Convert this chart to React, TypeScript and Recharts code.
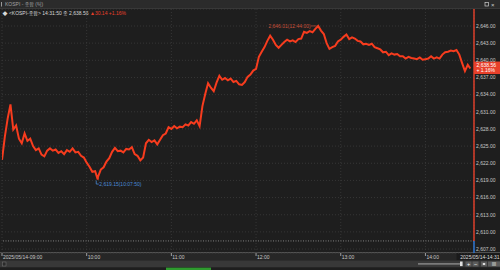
import React from "react";
import { LineChart, Line, XAxis, YAxis, CartesianGrid, ReferenceLine, ReferenceDot } from "recharts";

const FONT = "'Liberation Sans', 'Noto Sans CJK KR', sans-serif";

const times = [
  "09:00", "09:02", "09:04", "09:06", "09:08", "09:10", "09:12", "09:14", "09:16", "09:18",
  "09:20", "09:22", "09:24", "09:26", "09:28", "09:30", "09:32", "09:34", "09:36", "09:38",
  "09:40", "09:42", "09:44", "09:46", "09:48", "09:50", "09:52", "09:54", "09:56", "09:58",
  "10:00", "10:02", "10:04", "10:06", "10:07:50", "10:08", "10:10", "10:12", "10:14", "10:16",
  "10:18", "10:20", "10:22", "10:24", "10:26", "10:28", "10:30", "10:32", "10:34", "10:36",
  "10:38", "10:40", "10:42", "10:44", "10:46", "10:48", "10:50", "10:52", "10:54", "10:56",
  "10:58", "11:00", "11:02", "11:04", "11:06", "11:08", "11:10", "11:12", "11:14", "11:16",
  "11:18", "11:20", "11:22", "11:24", "11:26", "11:28", "11:30", "11:32", "11:34", "11:36",
  "11:38", "11:40", "11:42", "11:44", "11:46", "11:48", "11:50", "11:52", "11:54", "11:56",
  "11:58", "12:00", "12:02", "12:04", "12:06", "12:08", "12:10", "12:12", "12:14", "12:16",
  "12:18", "12:20", "12:22", "12:24", "12:26", "12:28", "12:30", "12:32", "12:34", "12:36",
  "12:38", "12:40", "12:42", "12:44", "12:46", "12:48", "12:50", "12:52", "12:54", "12:56",
  "12:58", "13:00", "13:02", "13:04", "13:06", "13:08", "13:10", "13:12", "13:14", "13:16",
  "13:18", "13:20", "13:22", "13:24", "13:26", "13:28", "13:30", "13:32", "13:34", "13:36",
  "13:38", "13:40", "13:42", "13:44", "13:46", "13:48", "13:50", "13:52", "13:54", "13:56",
  "13:58", "14:00", "14:02", "14:04", "14:06", "14:08", "14:10", "14:12", "14:14", "14:16",
  "14:18", "14:20", "14:22", "14:24", "14:26", "14:28", "14:30", "14:31:50",
];

const prices = [
  2622.6, 2626.6, 2629.8, 2632.3, 2627.9, 2628.6, 2626.3, 2625.5, 2627.2, 2625.9,
  2626.3, 2625.0, 2624.3, 2624.6, 2623.5, 2623.2, 2624.2, 2624.6, 2624.2, 2624.4,
  2623.8, 2624.1, 2623.6, 2624.3, 2624.0, 2624.6, 2623.9, 2624.0, 2623.3, 2623.0,
  2622.1, 2621.4, 2620.5, 2620.6, 2619.15, 2619.6, 2620.9, 2621.3, 2622.3, 2622.9,
  2624.0, 2624.7, 2624.1, 2624.2, 2623.9, 2624.5, 2624.4, 2624.8, 2623.6, 2623.3,
  2622.5, 2623.0, 2625.5, 2626.1, 2625.7, 2626.0, 2625.3, 2626.1, 2626.9, 2627.2,
  2628.3, 2628.0, 2628.5, 2628.1, 2628.4, 2628.3, 2628.8, 2628.6, 2629.2, 2628.9,
  2629.5, 2628.5, 2632.0, 2634.1, 2636.0, 2635.2, 2634.6, 2636.1, 2637.3, 2636.6,
  2636.9, 2636.5, 2636.8, 2636.2, 2636.4, 2635.8, 2635.7, 2636.2, 2637.1, 2637.5,
  2638.2, 2638.5, 2640.6, 2641.5, 2642.3, 2643.4, 2644.3, 2643.6, 2642.7, 2642.2,
  2642.7, 2643.2, 2643.6, 2643.3, 2643.5, 2643.2, 2643.7, 2643.8, 2645.0, 2644.8,
  2645.1, 2644.9, 2645.5, 2646.01, 2645.2, 2644.6, 2643.0, 2642.0, 2642.3, 2642.5,
  2643.3, 2643.6, 2644.1, 2644.5, 2643.7, 2644.0, 2643.8, 2643.4, 2643.3, 2642.8,
  2642.9, 2642.7, 2642.9, 2642.3, 2642.1, 2641.9, 2641.4, 2641.5, 2640.9, 2641.2,
  2641.0, 2641.1, 2640.7, 2640.7, 2640.3, 2640.6, 2640.4, 2640.3, 2640.2, 2640.5,
  2640.1, 2640.2, 2640.3, 2640.7, 2640.3, 2640.5, 2640.3, 2641.0, 2641.4, 2641.5,
  2641.7, 2641.6, 2641.8, 2641.0, 2639.5, 2638.1, 2639.2, 2638.56,
];

const yTicks = [2607, 2610, 2613, 2616, 2619, 2622, 2625, 2628, 2631, 2634, 2637, 2640, 2643, 2646];
const xTickTimes = ["09:00", "10:00", "11:00", "12:00", "13:00", "14:00"];
const dateLabel = "2025/05/14";
const lastTimeLabel = "14:31";
const lastClockLabel = "14:31:50";
const prevClose = 2608.42;
const lastPrice = 2638.56;
const changeValue = 30.14;
const changePct = 1.16;
const highTime = "12:44:00";
const highValue = 2646.01;
const lowTime = "10:07:50";
const lowValue = 2619.15;
const xDomainEnd = "14:34:25";
const yDomain: [number, number] = [2606.31, 2648.97];

const toMinutes = (s: string) => {
  const p = s.split(":").map(Number);
  return (p[0] - 9) * 60 + p[1] + (p[2] || 0) / 60;
};

const data = times.map((t, i) => ({ t: toMinutes(t), v: prices[i] }));
const xTicks = xTickTimes.map(toMinutes);
const xEnd = toMinutes(xDomainEnd);

const fmt = (v: number) =>
  v.toLocaleString("en-US", { minimumFractionDigits: 2, maximumFractionDigits: 2 });

const RED = "#f73c1e";
const BLUE = "#2f7de0";

const XTick = (props: any) => {
  const { x, y, payload } = props;
  const idx = xTicks.indexOf(payload.value);
  const label = idx === 0 ? `${dateLabel}-${xTickTimes[0]}` : xTickTimes[idx];
  return (
    <g>
      <line x1={x} y1={y} x2={x} y2={y + 3} stroke="#bbb" strokeWidth={0.8} />
      <text x={x + 1} y={y + 6} fontSize={5} fill="#c8c8c8" fontFamily={FONT} textAnchor="start">
        {label}
      </text>
    </g>
  );
};

const YTick = (props: any) => {
  const { x, y, payload } = props;
  return (
    <text x={x} y={y} dy={1.8} fontSize={5} fill="#c8c8c8" fontFamily={FONT} textAnchor="start">
      {fmt(payload.value)}
    </text>
  );
};

const PriceTag = (props: any) => {
  const vb = props.viewBox || {};
  const x0 = (vb.x || 0) + (vb.width || 0);
  const cy = vb.y || 0;
  return (
    <g>
      <rect x={x0} y={cy - 7} width={26} height={12.5} fill="#e8402a" />
      <text x={x0 + 2.5} y={cy - 1.8} fontSize={5} fill="#fff" fontFamily={FONT}>
        {fmt(lastPrice)}
      </text>
      <text x={x0 + 2.5} y={cy + 3.6} fontSize={5} fill="#fff" fontFamily={FONT}>
        {`+ ${changePct.toFixed(2)}%`}
      </text>
    </g>
  );
};

const HighMark = (props: any) => {
  const { cx, cy } = props;
  return (
    <g>
      <line x1={cx - 7} y1={cy} x2={cx - 1.5} y2={cy} stroke="#c8503a" strokeWidth={0.7} />
      <text x={cx - 7.5} y={cy + 1.8} fontSize={5} fill="#c8503a" fontFamily={FONT} textAnchor="end">
        {`${fmt(highValue)}(${highTime})`}
      </text>
    </g>
  );
};

const LowMark = (props: any) => {
  const { cx, cy } = props;
  return (
    <g>
      <path
        d={`M${cx - 1.5},${cy + 1} V${cy + 4.5} H${cx + 1}`}
        stroke="#4a8ad6"
        strokeWidth={0.8}
        fill="none"
      />
      <text x={cx + 1.5} y={cy + 6.3} fontSize={5} fill="#4a8ad6" fontFamily={FONT} textAnchor="start">
        {`${fmt(lowValue)}(${lowTime})`}
      </text>
    </g>
  );
};

export default function App() {
  return (
    <div
      style={{
        position: "absolute",
        left: 0,
        top: 0,
        width: 500,
        height: 270,
        background: "#1e1e1e",
        overflow: "hidden",
        fontFamily: FONT,
      }}
    >
      <svg width={500} height={270} style={{ position: "absolute", left: 0, top: 0 }}>
        <rect x={0} y={0} width={500} height={8.5} fill="#2b2b2b" />
        <line x1={0} y1={8.5} x2={500} y2={8.5} stroke="#3e3e3e" strokeWidth={0.8} />
        <rect x={1} y={2} width={1} height={4.5} fill="#9a9a9a" />
        <text x={5} y={6.2} fontSize={5} fill="#a0a0a0" fontFamily={FONT}>
          KOSPI - 종합 (틱)
        </text>
        <rect x={485} y={2.6} width={3.6} height={3.4} stroke="#cfcfcf" strokeWidth={0.7} fill="none" />
        <text x={491} y={6.6} fontSize={6} fill="#cfcfcf" fontFamily={FONT}>
          ×
        </text>
        <text x={2.5} y={14.6} fontSize={5} fill="#d8d8d8" fontFamily={FONT}>
          {`◆ <KOSPI-종합> ${lastClockLabel} 종 ${fmt(lastPrice)} `}
          <tspan fill="#e8402a">{`▲${changeValue.toFixed(2)}  +${changePct.toFixed(2)}%`}</tspan>
        </text>
        <rect x={0} y={253} width={500} height={7.5} fill="#262626" />
        <line x1={0} y1={252.6} x2={500} y2={252.6} stroke="#5e5e5e" strokeWidth={0.9} />
        <rect x={456.5} y={253.2} width={43.5} height={7.2} fill="#1a1a1a" />
        <text x={499.5} y={259} fontSize={5} fill="#dcdcdc" fontFamily={FONT} textAnchor="end">
          {`${dateLabel}-${lastTimeLabel}`}
        </text>
        <rect x={0} y={260.5} width={500} height={6.8} fill="#383838" />
        <rect x={2.5} y={262} width={3.5} height={4} fill="#2a2a2a" stroke="#777" strokeWidth={0.5} />
        <rect x={418} y={263.2} width={44} height={1.4} fill="#8a8a8a" />
        <rect x={460} y={261.5} width={2.6} height={4.6} fill="#e0e0e0" />
        <rect x={465.5} y={261.5} width={6} height={5} fill="#5c5c5c" />
        <text x={468.5} y={265.8} fontSize={5.5} fill="#fff" textAnchor="middle" fontFamily={FONT}>+</text>
        <rect x={472.5} y={261.5} width={6} height={5} fill="#5c5c5c" />
        <text x={475.5} y={265.6} fontSize={5.5} fill="#fff" textAnchor="middle" fontFamily={FONT}>−</text>
        <rect x={481} y={261.5} width={6} height={5} fill="#5c5c5c" />
        <rect x={482.8} y={263} width={2.4} height={2} fill="#ddd" />
        <rect x={488} y={261.5} width={12} height={5} fill="#5c5c5c" />
        <text x={494} y={265.4} fontSize={4} fill="#fff" textAnchor="middle" fontFamily={FONT}>||||</text>
        <rect x={166} y={267.6} width={45} height={3} fill="#2e9a2e" />
      </svg>
      <div style={{ position: "absolute", left: 0, top: 0 }}>
        <LineChart width={500} height={270} data={data} margin={{ top: 9, right: 0, bottom: 0, left: 2 }}>
          <CartesianGrid stroke="#3c3c3c" strokeDasharray="1 2" strokeWidth={0.8} />
          <XAxis
            dataKey="t"
            type="number"
            domain={[0, xEnd]}
            allowDataOverflow
            ticks={xTicks}
            tick={<XTick />}
            tickLine={false}
            axisLine={false}
            tickSize={0}
            tickMargin={0}
            height={17}
            interval={0}
          />
          <YAxis
            orientation="right"
            domain={yDomain}
            allowDataOverflow
            ticks={yTicks}
            tick={<YTick />}
            tickLine={false}
            axisLine={false}
            tickSize={0}
            tickMargin={2}
            width={26}
            interval={0}
          />
          <ReferenceLine y={prevClose} stroke="#8c8c8c" strokeDasharray="1 1.5" strokeWidth={0.9} />
          <Line
            type="linear"
            dataKey="v"
            stroke={RED}
            strokeWidth={2}
            strokeLinejoin="miter"
            dot={false}
            isAnimationActive={false}
          />
          <ReferenceLine
            segment={[
              { x: xEnd, y: prevClose },
              { x: xEnd, y: yDomain[1] },
            ]}
            stroke="#e8402a"
            strokeWidth={1.4}
            ifOverflow="visible"
          />
          <ReferenceLine
            segment={[
              { x: xEnd, y: yDomain[0] },
              { x: xEnd, y: prevClose },
            ]}
            stroke={BLUE}
            strokeWidth={1.4}
            ifOverflow="visible"
          />
          <ReferenceDot x={toMinutes(highTime)} y={highValue} r={0} shape={<HighMark />} ifOverflow="visible" />
          <ReferenceDot x={toMinutes(lowTime)} y={lowValue} r={0} shape={<LowMark />} ifOverflow="visible" />
          <ReferenceLine y={lastPrice} stroke="none" label={<PriceTag />} ifOverflow="visible" />
        </LineChart>
      </div>
    </div>
  );
}
